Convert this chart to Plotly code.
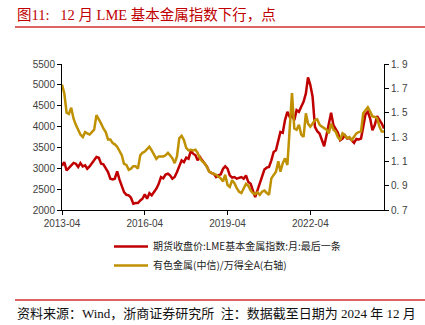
import pandas as pd
import plotly.graph_objects as go

# ---- data ----
months = pd.date_range("2013-04-01", "2024-12-01", freq="MS")

lme_index = [
    3060, 3150, 2950, 3015, 3070, 3130, 3110, 3030, 3125, 3045,
    3070, 2990, 3045, 3110, 3200, 3270, 3250, 3110, 3095, 3015,
    2910, 2750, 2735, 2750, 2925, 2735, 2590, 2430, 2365, 2350,
    2295, 2150, 2165, 2165, 2230, 2270, 2375, 2270, 2405, 2350,
    2430, 2510, 2620, 2790, 2760, 2850, 2870, 2830, 2750, 2790,
    2910, 3048, 3190, 3150, 3257, 3230, 3416, 3350, 3310, 3190,
    3270, 3190, 3125, 3045, 2925, 2885, 2870, 2790, 2830, 2855,
    2990, 3045, 2990, 2830, 2775, 2790, 2750, 2775, 2790, 2750,
    2830, 2670, 2630, 2470, 2310, 2470, 2630, 2830, 2970, 3015,
    3030, 3190, 3392, 3430, 3673, 3873, 3850, 4154, 4354, 4234,
    4274, 4154, 4394, 4354, 4474, 4595, 4795, 5180, 4995, 4714,
    3993, 3889, 3834, 3673, 3529, 3793, 4034, 4330, 4034, 3930,
    3850, 3673, 3713, 3793, 3713, 3730, 3673, 3610, 3705, 3690,
    3713, 3993, 4298, 4354, 4194, 3914, 4034, 4250, 4170, 4074,
    3954,
]

nonferrous_ratio = [
    1.73, 1.66, 1.50, 1.49, 1.54, 1.45, 1.40, 1.36, 1.32, 1.30,
    1.34, 1.33, 1.32, 1.34, 1.36, 1.48, 1.45, 1.41, 1.37, 1.34,
    1.28, 1.28, 1.25, 1.24, 1.22, 1.18, 1.15, 1.08, 1.07, 1.03,
    1.04, 1.06, 1.06, 1.04, 1.15, 1.17, 1.18, 1.20, 1.22, 1.19,
    1.15, 1.12, 1.14, 1.14, 1.14, 1.15, 1.17, 1.15, 1.125, 1.085,
    1.14, 1.29, 1.31, 1.275, 1.21, 1.19, 1.195, 1.19, 1.195, 1.17,
    1.125, 1.10, 1.085, 1.055, 1.015, 1.005, 1.00, 0.99, 0.975, 0.96,
    0.935, 0.99, 0.905, 0.89, 0.945, 0.92, 0.88, 0.85, 0.84, 0.88,
    0.915, 0.90, 0.86, 0.84, 0.83, 0.845, 0.825, 0.85, 0.86, 0.84,
    0.825, 0.96, 0.99, 1.015, 1.10, 1.015, 1.085, 1.125, 1.07, 1.36,
    1.66, 1.37, 1.36, 1.40, 1.32, 1.30, 1.495, 1.41, 1.385, 1.41,
    1.44, 1.445, 1.40, 1.385, 1.37, 1.36, 1.33, 1.41, 1.36, 1.345,
    1.30, 1.275, 1.33, 1.315, 1.29, 1.30, 1.275, 1.30, 1.33, 1.34,
    1.345, 1.495, 1.52, 1.545, 1.51, 1.47, 1.465, 1.455, 1.385, 1.345,
    1.345,
]

left_ticks = [2000, 2500, 3000, 3500, 4000, 4500, 5000, 5500]
right_ticks = [0.7, 0.9, 1.1, 1.3, 1.5, 1.7, 1.9]
right_ticktext = ["0. 7", "0. 9", "1. 1", "1. 3", "1. 5", "1. 7", "1. 9"]

name_lme = "期货收盘价:LME基本金属指数:月:最后一条"
name_nf = "有色金属(中信)/万得全A(右轴)"
title_text = "图11:   12 月 LME 基本金属指数下行，点"
footer_text = "资料来源：Wind，浙商证券研究所  注：数据截至日期为 2024 年 12 月"

RED = "#C00000"
GOLD = "#BF9000"

fig = go.Figure()
fig.add_trace(go.Scatter(x=months, y=lme_index, name=name_lme, mode="lines",
                         line=dict(color=RED, width=2.5), yaxis="y"))
fig.add_trace(go.Scatter(x=months, y=nonferrous_ratio, name=name_nf, mode="lines",
                         line=dict(color=GOLD, width=2.5), yaxis="y2"))

# plot area: x 62..384, y 64..210
L, R, T, B = 62, 384, 64, 210
W, H = R - L, B - T
def px(X): return (X - L) / W
def py(Y): return (B - Y) / H

axis_font = dict(family="Liberation Sans, Arial, sans-serif", size=10, color="#404040")

fig.update_layout(
    width=425, height=325,
    margin=dict(l=L, r=425 - R, t=T, b=325 - B, pad=0),
    paper_bgcolor="white", plot_bgcolor="white",
    showlegend=True,
    legend=dict(x=px(109), y=py(232), xanchor="left", yanchor="top",
                font=dict(family="Noto Sans CJK SC", size=10, color="#222222"),
                bgcolor="rgba(0,0,0,0)", tracegroupgap=0, itemwidth=34),
    xaxis=dict(range=["2013-04-01", "2024-12-01"], tickformat="%Y-%m",
               tick0="2013-04-01", dtick="M36", showgrid=False, zeroline=False,
               showline=True, linecolor="black", linewidth=1,
               ticks="outside", ticklen=4, tickcolor="black",
               tickfont=axis_font),
    yaxis=dict(range=[2000, 5500], tickvals=left_ticks, showgrid=False, zeroline=False,
               showline=True, linecolor="black", linewidth=1,
               ticks="outside", ticklen=4, tickcolor="black", tickfont=axis_font),
    yaxis2=dict(range=[0.7, 1.9], tickvals=right_ticks, ticktext=right_ticktext,
                overlaying="y", side="right", showgrid=False, zeroline=False,
                showline=True, linecolor="black", linewidth=1,
                ticks="outside", ticklen=4, tickcolor="black", tickfont=axis_font),
)

fig.add_annotation(text=title_text, xref="paper", yref="paper", x=px(15), y=py(15),
                   xanchor="left", yanchor="middle", showarrow=False,
                   font=dict(family="Liberation Serif, Noto Sans CJK SC", size=14.5, color=RED))
fig.add_annotation(text=footer_text, xref="paper", yref="paper", x=px(15), y=py(313),
                   xanchor="left", yanchor="middle", showarrow=False,
                   font=dict(family="Liberation Serif, Noto Sans CJK SC", size=13, color="#111111"))

for Y in (27, 300):
    fig.add_shape(type="line", xref="paper", yref="paper", x0=px(15), x1=px(425),
                  y0=py(Y), y1=py(Y), line=dict(color="#D03030", width=1.5))

fig.write_html("out.html")
